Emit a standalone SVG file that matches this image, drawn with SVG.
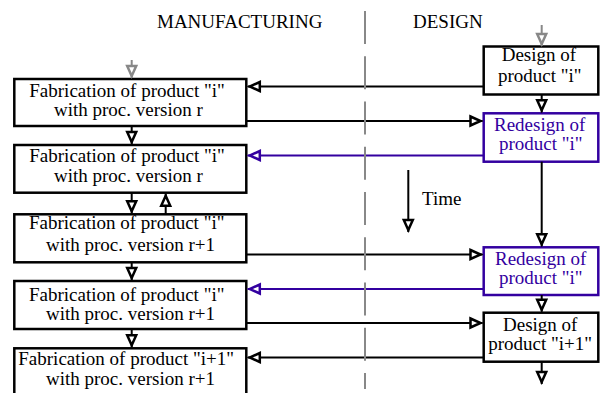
<svg xmlns="http://www.w3.org/2000/svg" width="600" height="393" viewBox="0 0 600 393">
<style>
text{font-family:"Liberation Serif","Times New Roman",serif;font-size:19px;fill:#000}
.box{fill:#fff;stroke:#000;stroke-width:2.5}
.pbox{fill:#fff;stroke:#3300a0;stroke-width:2.5}
.ptxt{fill:#3300a0}
.c{fill:none;stroke:#000;stroke-width:2;marker-end:url(#ah)}
.cp{fill:none;stroke:#3300a0;stroke-width:2;marker-end:url(#ahp)}
.cg{fill:none;stroke:#888;stroke-width:2;marker-end:url(#ahg)}
</style>
<defs>
<marker id="ah" markerUnits="userSpaceOnUse" markerWidth="20" markerHeight="14" refX="14" refY="6" orient="auto" overflow="visible"><path d="M2,1.5 L12,6 L2,10.5 Z" fill="#fff" stroke="#000" stroke-width="2.5"/></marker>
<marker id="ahp" markerUnits="userSpaceOnUse" markerWidth="20" markerHeight="14" refX="14" refY="6" orient="auto" overflow="visible"><path d="M2,1.5 L12,6 L2,10.5 Z" fill="#fff" stroke="#3300a0" stroke-width="2.5"/></marker>
<marker id="ahg" markerUnits="userSpaceOnUse" markerWidth="20" markerHeight="14" refX="14" refY="6" orient="auto" overflow="visible"><path d="M2,1.5 L12,6 L2,10.5 Z" fill="#fff" stroke="#888" stroke-width="2.5"/></marker>
</defs>
<rect width="600" height="393" fill="#fff"/>
<g id="headers">
<text x="157" y="28">MANUFACTURING</text>
<text x="413" y="28">DESIGN</text>
<text x="422" y="205">Time</text>
</g>
<g id="fab1"><rect class="box" x="14.3" y="79" width="232" height="47"/><text x="29.3" y="97">Fabrication of product "i"</text><text x="54" y="116">with proc. version r</text></g>
<g id="fab2"><rect class="box" x="14.3" y="145" width="232" height="47.7"/><text x="29.3" y="162">Fabrication of product "i"</text><text x="54" y="182">with proc. version r</text></g>
<g id="fab3"><rect class="box" x="14.3" y="214.3" width="232" height="48"/><text x="29" y="229">Fabrication of product "i"</text><text x="46" y="251">with proc. version r+1</text></g>
<g id="fab4"><rect class="box" x="14.3" y="281" width="232" height="48"/><text x="29" y="301">Fabrication of product "i"</text><text x="46" y="320">with proc. version r+1</text></g>
<g id="fab5"><rect class="box" x="14.3" y="348.3" width="232" height="60"/><text x="18.3" y="365">Fabrication of product "i+1"</text><text x="46" y="385">with proc. version r+1</text></g>
<g id="design1"><rect class="box" x="483.7" y="46.5" width="114.6" height="48"/><text x="501.7" y="61">Design of</text><text x="498" y="82">product "i"</text></g>
<g id="redesign1"><rect class="pbox" x="483.7" y="113.3" width="114.6" height="48.4"/><text class="ptxt" x="494" y="130.5">Redesign of</text><text class="ptxt" x="499" y="149.5">product "i"</text></g>
<g id="redesign2"><rect class="pbox" x="483.7" y="247.3" width="114.6" height="47.7"/><text class="ptxt" x="495" y="264.5">Redesign of</text><text class="ptxt" x="499" y="283.5">product "i"</text></g>
<g id="design2"><rect class="box" x="483.7" y="312.7" width="114.6" height="49"/><text x="503" y="331">Design of</text><text x="488.3" y="350">product "i+1"</text></g>
<g id="connectors">
<path class="cg" d="M131.7,60 V78"/>
<path class="cg" d="M541.7,25 V46"/>
<path class="c" d="M483.7,86.5 H247.8"/>
<path class="c" d="M246.3,121 H482.5"/>
<path class="cp" d="M483.7,155.5 H247.8"/>
<path class="c" d="M541.7,94.5 V112.3"/>
<path class="c" d="M541.7,161.7 V246.3"/>
<path class="c" d="M541.7,295 V311.7"/>
<path class="c" d="M541.7,361.7 V384"/>
<path class="c" d="M131.7,126 V144"/>
<path class="c" d="M131.7,192.7 V213.3"/>
<path class="c" d="M165.7,214.3 V193.7"/>
<path class="c" d="M131.7,262.3 V280"/>
<path class="c" d="M131.7,329 V347.3"/>
<path class="c" d="M246.3,254.5 H482.5"/>
<path class="cp" d="M483.7,289 H247.8"/>
<path class="c" d="M246.3,323 H482.5"/>
<path class="c" d="M483.7,357.5 H247.8"/>
<path class="c" d="M408.3,170 V232"/>
</g>
<line id="divider" x1="365" y1="11" x2="365" y2="389" stroke="#888" stroke-width="2" stroke-dasharray="33 12.25"/>
</svg>
